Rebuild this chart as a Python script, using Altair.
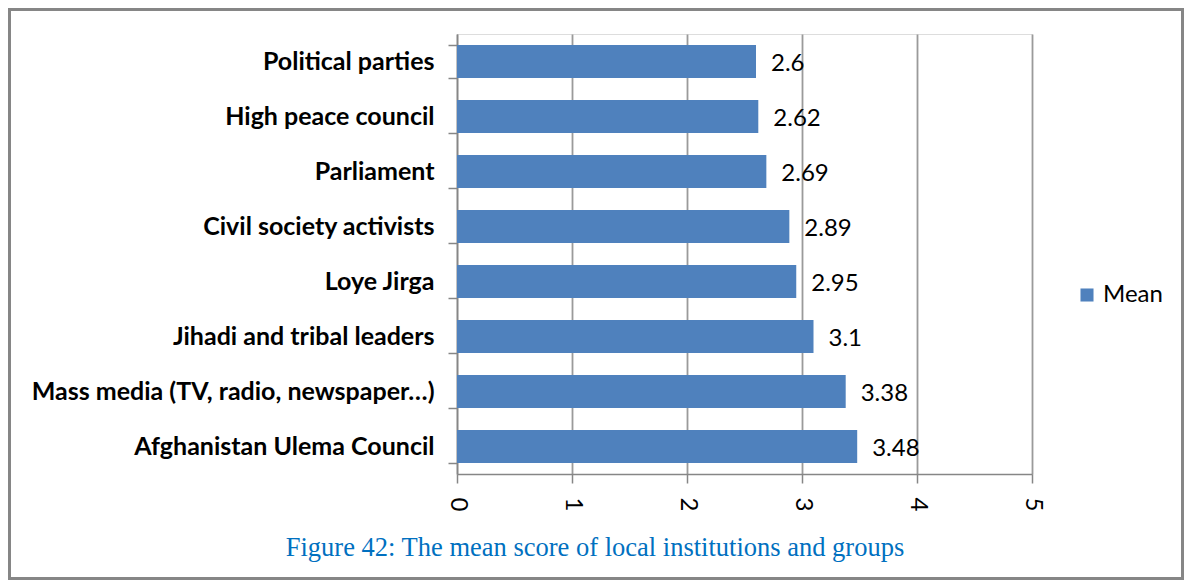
import altair as alt
import pandas as pd

categories = [
    "Political parties",
    "High peace council",
    "Parliament",
    "Civil society activists",
    "Loye Jirga",
    "Jihadi and tribal leaders",
    "Mass media (TV, radio, newspaper…)",
    "Afghanistan Ulema Council",
]
means = [2.6, 2.62, 2.69, 2.89, 2.95, 3.1, 3.38, 3.48]
series_name = "Mean"
x_ticks = [0, 1, 2, 3, 4, 5]
caption = "Figure 42: The mean score of local institutions and groups"

df = pd.DataFrame({"category": categories, "value": means, "series": series_name})

W, H = 575, 440
PAD_L, PAD_T = 449, 26
TOTAL_W, TOTAL_H = 1176, 572

y_enc = alt.Y(
    "category:N",
    sort=categories,
    scale=alt.Scale(paddingInner=0.4, paddingOuter=0.2),
    axis=alt.Axis(
        title=None,
        labelFont="Lato",
        labelFontWeight="bold",
        labelFontSize=25,
        labelColor="#000000",
        labelPadding=14,
        labelLimit=600,
        tickBand="extent",
        tickSize=9,
        tickColor="#868686",
        tickWidth=1.5,
        domainColor="#868686",
        domainWidth=1.5,
        grid=False,
    ),
)

x_enc = alt.X(
    "value:Q",
    scale=alt.Scale(domain=[0, 5], nice=False),
    axis=alt.Axis(
        title=None,
        values=x_ticks,
        format="d",
        labelAngle=90,
        labelFont="Lato",
        labelFontSize=24,
        labelColor="#000000",
        labelPadding=14,
        tickSize=9,
        tickColor="#868686",
        tickWidth=1.5,
        domainColor="#868686",
        domainWidth=1.5,
        grid=True,
        gridColor="#9a9a9a",
        gridWidth=1.8,
    ),
)

bars = alt.Chart(df).mark_bar(color="#4F81BD").encode(
    y=y_enc,
    x=x_enc,
    color=alt.Color(
        "series:N",
        scale=alt.Scale(range=["#4F81BD"]),
        legend=alt.Legend(
            title=None,
            orient="none",
            legendX=618,
            legendY=249,
            symbolType="square",
            symbolSize=170,
            symbolStrokeWidth=0,
            labelFont="Lato",
            labelFontSize=24,
            labelColor="#000000",
            padding=0,
        ),
    ),
)

labels = alt.Chart(df).mark_text(
    align="left", baseline="middle", dx=15, dy=2, font="Lato", fontSize=24, color="#000000"
).encode(
    y=alt.Y("category:N", sort=categories),
    x=alt.X("value:Q"),
    text=alt.Text("value:Q"),
)

one = alt.Data(values=[{"k": 1}])

border = alt.Chart(one).mark_rect(fill=None, stroke="#868686", strokeWidth=3).encode(
    x=alt.value(-PAD_L + 1.5),
    x2=alt.value(TOTAL_W - PAD_L - 1.5),
    y=alt.value(-PAD_T + 1.5),
    y2=alt.value(TOTAL_H - PAD_T - 1.5),
)

title = alt.Chart(one).mark_text(
    text=caption, font="Liberation Serif", fontSize=26.5, color="#0070C0",
    align="center", baseline="middle",
).encode(x=alt.value(138), y=alt.value(514))

chart = alt.layer(bars, labels, title, border).properties(
    width=W,
    height=H,
    autosize=alt.AutoSizeParams(type="none"),
    padding={"left": PAD_L, "top": PAD_T, "right": TOTAL_W - PAD_L - W, "bottom": TOTAL_H - PAD_T - H},
).configure_view(strokeWidth=0).configure(background="#ffffff")

chart.save("out.html", embed_options={"renderer": "svg", "actions": False})
